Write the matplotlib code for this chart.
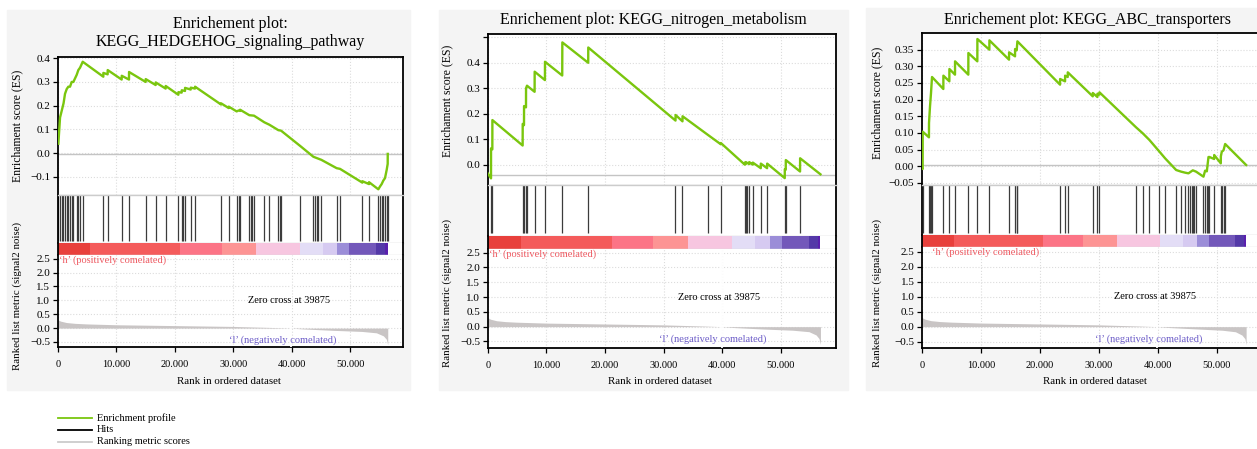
import matplotlib.pyplot as plt
from matplotlib.lines import Line2D
from matplotlib.patches import Rectangle

W, H = 1257, 449
plt.rcParams['font.family'] = ['Liberation Serif', 'DejaVu Serif']

GREEN = '#7ac60e'
HIT = '#3c3c3c'
FILL = '#c9c5c5'
GRID = '#dcdcdc'
RED_TXT = '#ee5a62'
BLUE_TXT = '#6c5cc8'

# colour bar of the ranked list (same palette for every plot)
band_colors = ['#e8403c', '#f45b5b', '#fc7486', '#fd9494', '#f7c6e0', '#e3ddf6',
               '#d6caf1', '#9b8dd8', '#7358ba', '#5439a8', '#5a20ae']

# ranking metric (signal2noise) along the list
metric_val = [0.30, 0.25, 0.20, 0.17, 0.15, 0.12, 0.09, 0.06, 0.02, 0.0,
              -0.03, -0.08, -0.12, -0.17, -0.28, -0.40, -0.60]

# ---- KEGG_HEDGEHOG_signaling_pathway
es1_rank = [110, 400, 700, 1000, 1250, 1540, 1820, 2110, 2390, 2680, 3250, 3530, 3820, 4280,
            7800, 7810, 8540, 8550, 10940, 10950, 12190, 12200, 15040, 15050, 16750, 16760,
            18460, 18470, 20630, 20640, 21200, 21210, 21770, 21780, 22740, 22750, 23480, 23490,
            27930, 27940, 29240, 29250, 30600, 30960, 31180, 31190, 32770, 33570, 35340, 36190,
            37730, 38190, 41490, 43720, 45090, 47700, 48280, 52100, 52110, 53230, 53240, 54830,
            55120, 55400, 55690, 55970, 56260, 56430, 56440]
es1_score = [0.04, 0.15, 0.18, 0.21, 0.25, 0.27, 0.28, 0.28, 0.30, 0.30, 0.33, 0.35, 0.36, 0.385,
             0.322, 0.338, 0.332, 0.35, 0.31, 0.326, 0.31, 0.342, 0.30, 0.312, 0.287, 0.298,
             0.272, 0.283, 0.246, 0.257, 0.255, 0.265, 0.262, 0.275, 0.268, 0.276, 0.272, 0.28,
             0.205, 0.21, 0.19, 0.196, 0.176, 0.18, 0.178, 0.183, 0.16, 0.158, 0.13, 0.12,
             0.097, 0.095, 0.03, -0.015, -0.028, -0.063, -0.066, -0.124, -0.118, -0.13, -0.122, -0.152,
             -0.14, -0.13, -0.115, -0.105, -0.07, -0.045, -0.003]
hits1 = [110, 400, 680, 970, 1250, 1540, 1820, 2110, 2390, 2680, 3250, 3530, 3820, 4280,
         7810, 8550, 10940, 12200, 15050, 16760, 18470, 20630, 21200, 21380, 21770, 22740, 23480,
         27930, 29240, 30610, 30950, 31180, 32780, 33000, 33290, 33570, 35340, 36200, 37730,
         38020, 38190, 41500, 43720, 44000, 44290, 44570, 45090, 47710, 48280, 52100, 53240,
         54830, 55120, 55400, 55690, 55970, 56260, 56430]
edges1 = [0, 5530, 20920, 28040, 33920, 41440, 45430, 47820, 49880, 54440, 55970, 56440]
metric1_rank = [0, 500, 1500, 3000, 5000, 10000, 20000, 30000, 37000, 39875,
                42000, 47000, 52000, 54500, 55700, 56200, 56440]

# ---- KEGG_nitrogen_metabolism
es2_rank = [0, 565, 570, 790, 800, 5960, 5970, 6190, 6200, 6530, 6540, 6700, 8000, 8010,
            9760, 9770, 12710, 12720, 12730, 17140, 17150, 32030, 32040, 33220, 33230, 37600,
            39750, 39760, 43840, 43850, 44020, 44030, 44590, 44600, 45200, 45210, 46570, 46580,
            47650, 47660, 50660, 50670, 50830, 50840, 53270, 53280, 56750]
es2_score = [-0.034, -0.054, 0.064, 0.06, 0.175, 0.075, 0.16, 0.155, 0.23, 0.225, 0.30, 0.31, 0.286, 0.365,
             0.332, 0.404, 0.35, 0.42, 0.48, 0.40, 0.46, 0.173, 0.195, 0.17, 0.19, 0.116,
             0.08, 0.085, 0.0, 0.008, 0.002, 0.01, 0.002, 0.01, 0.0, 0.008, -0.014, 0.004,
             -0.014, 0.004, -0.053, -0.018, -0.02, 0.018, -0.027, 0.025, -0.038]
hits2 = [565, 790, 5960, 6200, 6540, 6710, 8010, 9770, 12720, 17150, 31990, 33200, 37600,
         39730, 43850, 44020, 44220, 44590, 45160, 46550, 47600, 50660, 50830, 53250]
edges2 = [0, 5680, 21240, 28230, 34080, 41580, 45670, 48110, 50270, 54760, 56350, 56750]
metric2_rank = [0, 500, 1500, 3000, 5000, 10000, 20000, 30000, 37000, 39875,
                42000, 47000, 52000, 54800, 56000, 56500, 56750]

# ---- KEGG_ABC_transporters
es3_rank = [0, 110, 120, 1180, 1190, 1360, 1530, 1700, 3620, 3630, 4640, 4650, 5600, 5610,
            7860, 7870, 9390, 9400, 11430, 11440, 14770, 14780, 15790, 15800, 16070, 16190,
            23430, 23440, 24280, 24290, 24730, 24740, 28980, 28990, 29770, 29780, 30110, 30120,
            36330, 37470, 38600, 40300, 41260, 43130, 43980, 44660, 45220, 45960, 46520, 47770,
            48050, 48340, 48620, 48790, 49580, 49590, 50710, 50720, 50880, 51170, 51450, 55010]
es3_score = [-0.006, -0.008, 0.104, 0.087, 0.13, 0.18, 0.22, 0.268, 0.232, 0.272, 0.255, 0.292, 0.275, 0.315,
             0.275, 0.34, 0.315, 0.382, 0.35, 0.378, 0.32, 0.342, 0.33, 0.352, 0.348, 0.375,
             0.245, 0.262, 0.255, 0.272, 0.268, 0.282, 0.21, 0.22, 0.208, 0.218, 0.215, 0.222,
             0.117, 0.099, 0.079, 0.044, 0.024, -0.011, -0.016, -0.019, -0.021, -0.012, -0.016, -0.031,
             -0.013, -0.015, 0.028, 0.028, 0.022, 0.034, 0.009, 0.03, 0.044, 0.048, 0.067, 0.004]
hits3 = [113, 1190, 1360, 1530, 1700, 3620, 4640, 5600, 7870, 9400, 11430, 14770, 15790,
         16070, 16190, 23430, 24280, 24730, 28980, 29770, 30110, 36340, 37470, 38600, 40300,
         41260, 43130, 43980, 44660, 45220, 45510, 45790, 45960, 46190, 46520, 47770, 48050,
         48340, 48620, 48790, 49580, 50710, 50880, 51170, 51450]
edges3 = [0, 5430, 20490, 27390, 33050, 40410, 44370, 46640, 48730, 53150, 54730, 55010]
metric3_rank = [0, 500, 1500, 3000, 5000, 10000, 20000, 30000, 37000, 39875,
                42000, 47000, 51000, 53200, 54300, 54800, 55010]

x_ticks = [0, 10000, 20000, 30000, 40000, 50000]
x_labels = ['0', '10.000', '20.000', '30.000', '40.000', '50.000']
met_ticks = [-0.5, 0.0, 0.5, 1.0, 1.5, 2.0, 2.5]
met_labels = ['\u22120.5', '0.0', '0.5', '1.0', '1.5', '2.0', '2.5']

fig = plt.figure(figsize=(W / 100, H / 100), dpi=100)

# grey panels behind each plot
for bx0, by0, bx1, by1 in [(7, 10, 410, 390), (439, 10, 848, 390), (866, 8, 1257, 390)]:
    fig.patches.append(Rectangle((bx0 / W, 1 - by1 / H), (bx1 - bx0) / W, (by1 - by0) / H,
                                 transform=fig.transFigure, color='#f4f4f4', zorder=-5))


def px_axes(x0, x1, y0, y1):
    return fig.add_axes([x0 / W, 1 - y1 / H, (x1 - x0) / W, (y1 - y0) / H])


def spines(ax, left='k', right='k', top='k', bottom='k'):
    for side, c in zip(['left', 'right', 'top', 'bottom'], [left, right, top, bottom]):
        if c is None:
            ax.spines[side].set_visible(False)
        else:
            ax.spines[side].set_color(c)
            ax.spines[side].set_linewidth(1.3 if c == 'k' else 1.0)


def panel(x0, x1, ys, xmax, es_rank, es_score, zero_y, es_lim, es_ticks, es_labels,
          hits, edges, m_rank, met_lim, h_x):
    y_es, y_hits, y_bar, y_met, y_bot = ys

    # running enrichment score
    ax = px_axes(x0, x1, y_es, y_hits)
    ax.plot(es_rank, es_score, color=GREEN, lw=1.7, zorder=3)
    ax.axhline(zero_y, color='#c4c4c4', lw=1.0, zorder=2)
    ax.set_xlim(0, xmax)
    ax.set_ylim(*es_lim)
    ax.set_xticks(x_ticks)
    ax.set_yticks(es_ticks)
    ax.set_yticklabels(es_labels)
    ax.tick_params(axis='x', length=0, labelbottom=False)
    ax.tick_params(axis='y', length=3.5, width=0.9, labelsize=8, pad=2)
    ax.grid(True, ls=':', color=GRID, lw=0.8)
    spines(ax, bottom='#cccccc')

    # hits
    ax = px_axes(x0, x1, y_hits, y_bar)
    ax.vlines(hits, 0.05, 1.0, color=HIT, lw=0.9)
    ax.set_xlim(0, xmax)
    ax.set_ylim(0, 1)
    ax.set_xticks([])
    ax.set_yticks([])
    spines(ax, top='#cccccc', bottom='#cccccc')

    # coloured ranking bar
    ax = px_axes(x0, x1, y_bar, y_met)
    for a, b, c in zip(edges[:-1], edges[1:], band_colors):
        ax.axvspan(a, b, color=c, lw=0)
    ax.set_xlim(0, xmax)
    ax.set_xticks([])
    ax.set_yticks([])
    spines(ax, top=None, bottom='#dddddd')

    # ranked list metric
    ax = px_axes(x0, x1, y_met, y_bot)
    ax.fill_between(m_rank, metric_val, 0, color=FILL, lw=0, zorder=2)
    ax.axvline(39875, color='white', lw=1.3, zorder=3)
    ax.set_xlim(0, xmax)
    ax.set_ylim(*met_lim)
    ax.set_xticks(x_ticks)
    ax.set_xticklabels(x_labels)
    ax.set_yticks(met_ticks)
    ax.set_yticklabels(met_labels)
    ax.tick_params(length=3.5, width=0.9, labelsize=8, pad=2)
    ax.tick_params(axis='x', labelsize=7.5, pad=6)
    ax.grid(True, ls=':', color=GRID, lw=0.8, zorder=1)
    spines(ax, top=None)
    ax.text(h_x, met_lim[1] - 0.02, '\u2018h\u2019 (positively comelated)', color=RED_TXT,
            fontsize=7.5, va='top', ha='left')
    ax.text(38400, -0.43, '\u2018l\u2019 (negatively comelated)', color=BLUE_TXT,
            fontsize=7.5, va='center', ha='center')
    ax.text(39500, 1.0, 'Zero cross at 39875', fontsize=7.5, va='center', ha='center')


panel(57.7, 403.3, (57, 195, 243, 255, 347), 59100, es1_rank, es1_score, -0.004, (-0.176, 0.405),
      [-0.1, 0.0, 0.1, 0.2, 0.3, 0.4], ['\u22120.1', '0.0', '0.1', '0.2', '0.3', '0.4'],
      hits1, edges1, metric1_rank, (-0.68, 2.63), 300)
panel(487.7, 836, (34, 185, 236, 249, 348), 59400, es2_rank, es2_score, -0.04, (-0.08, 0.513),
      [0.0, 0.1, 0.2, 0.3, 0.4, 0.5], ['0.0', '0.1', '0.2', '0.3', '0.4', ''],
      hits2, edges2, metric2_rank, (-0.72, 2.62), 300)
panel(922, 1272, (33, 185, 235, 247, 348), 59400, es3_rank, es3_score, 0.004, (-0.056, 0.40),
      [-0.05, 0.0, 0.05, 0.1, 0.15, 0.2, 0.25, 0.3, 0.35],
      ['\u22120.05', '0.00', '0.05', '0.10', '0.15', '0.20', '0.25', '0.30', '0.35'],
      hits3, edges3, metric3_rank, (-0.71, 2.65), 1700)


def ftext(x, y, s, **kw):
    fig.text(x / W, 1 - y / H, s, **kw)


ftext(230, 33, 'Enrichement plot:\nKEGG_HEDGEHOG_signaling_pathway', fontsize=11.5,
      ha='center', va='center', linespacing=1.2)
ftext(653, 20, 'Enrichement plot: KEGG_nitrogen_metabolism', fontsize=11.5, ha='center', va='center')
ftext(1087, 20, 'Enrichement plot: KEGG_ABC_transporters', fontsize=11.5, ha='center', va='center')

for lx, ly_es, ly_met, xl_x in [(17, 126, 296, 229), (447, 101, 293, 660), (877, 103, 293, 1095)]:
    ftext(lx, ly_es, 'Enrichament score (ES)', fontsize=8.5, rotation=90, ha='center', va='center')
    ftext(lx, ly_met, 'Ranked list metric (signal2 noise)', fontsize=7.8, rotation=90,
          ha='center', va='center')
    ftext(xl_x, 382, 'Rank in ordered dataset', fontsize=7.8, ha='center', va='center')

# legend below the first plot
for ly, c, name in [(418, GREEN, 'Enrichment profile'), (430, 'black', 'Hits'),
                    (442, '#cccccc', 'Ranking metric scores')]:
    fig.add_artist(Line2D([58 / W, 92 / W], [1 - ly / H, 1 - ly / H], color=c, lw=1.3))
    ftext(97, ly, name, fontsize=7.5, va='center', ha='left')

fig.savefig('out.png', dpi=100)
